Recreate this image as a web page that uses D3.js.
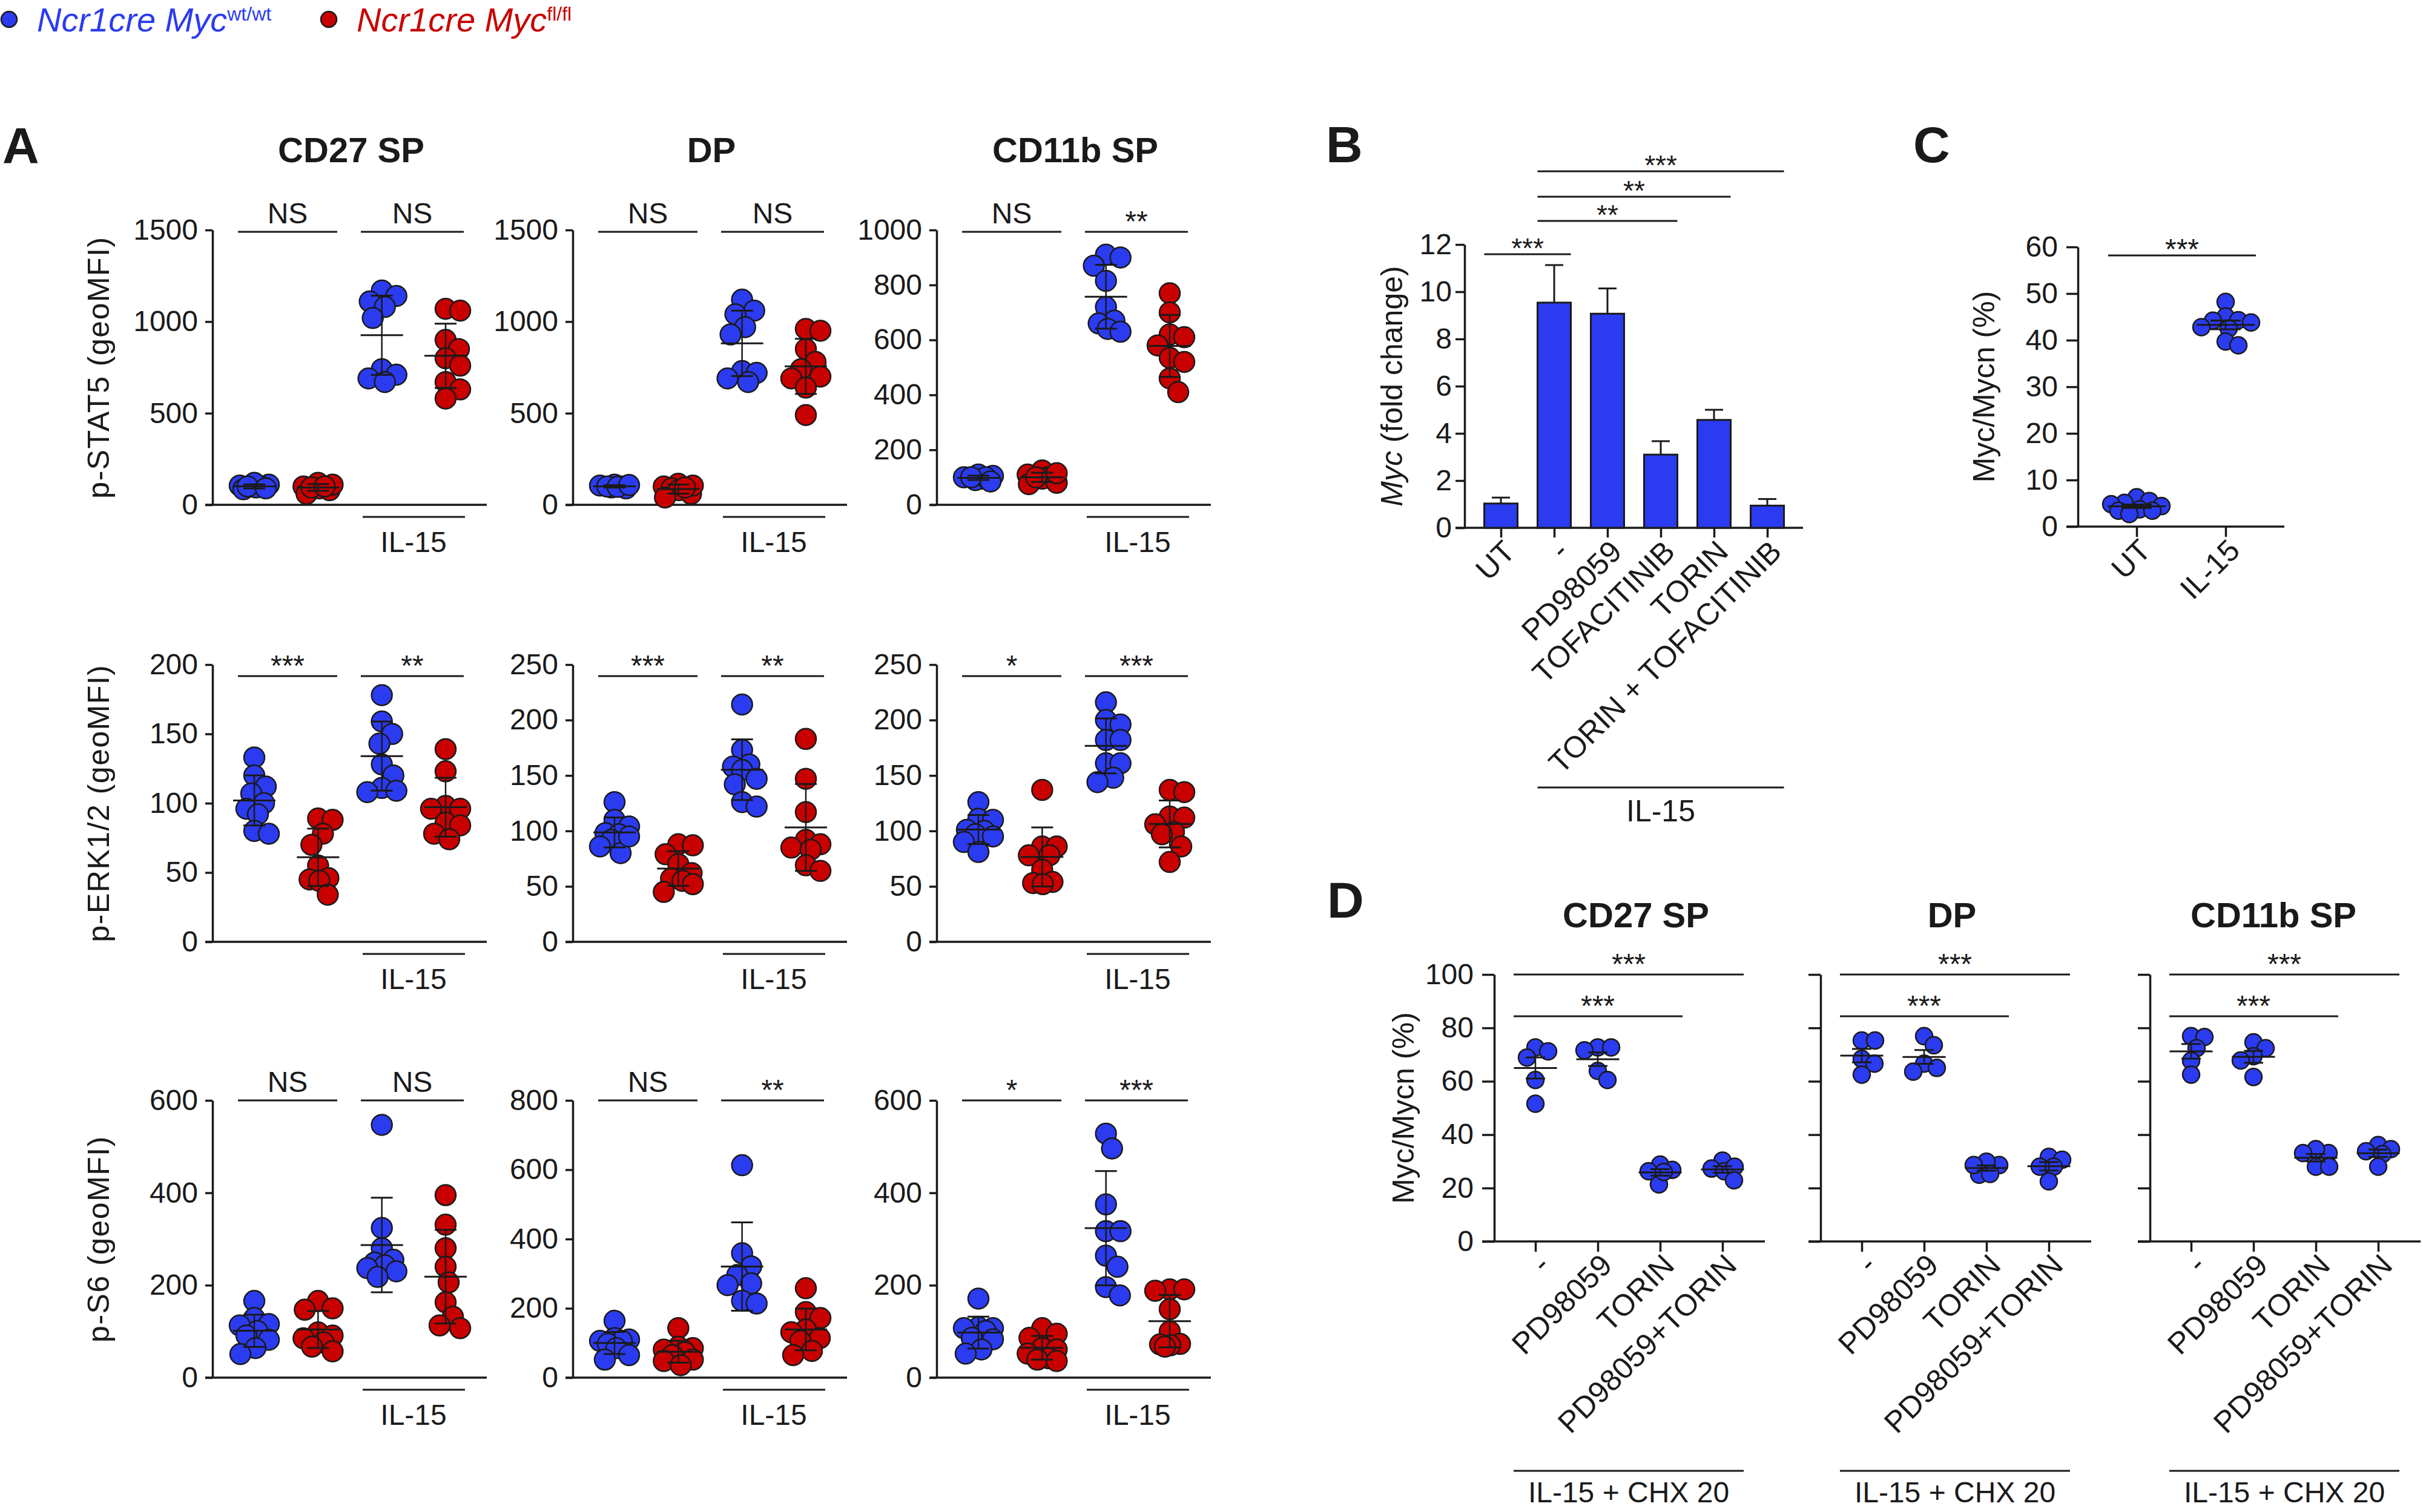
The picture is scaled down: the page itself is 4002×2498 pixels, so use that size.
<!DOCTYPE html>
<html>
<head>
<meta charset="utf-8">
<script src="https://cdn.jsdelivr.net/npm/d3@7"></script>
<style>
body { margin: 0; background: #fff; }
svg text { font-family: "Liberation Sans", Arial, sans-serif; fill: #1a1a1a; }
</style>
</head>
<body>
<div id="fig"></div>
<script>
const blue = "#2b3bf0", red = "#c80000", ink = "#1a1a1a";

// ---- legend
const legendLabels = ["Ncr1cre Myc", "Ncr1cre Myc"];
const legendSups = ["wt/wt", "fl/fl"];
const legendColors = [blue, red];

// ---- panel A: phospho-flow, 3 readouts x 3 subsets, 4 groups each
const groupsA = ["UT wt/wt", "UT fl/fl", "IL-15 wt/wt", "IL-15 fl/fl"];
const groupColorsA = [blue, red, blue, red];
const subsetsA = ["CD27 SP", "DP", "CD11b SP"];
const readoutsA = ["p-STAT5 (geoMFI)", "p-ERK1/2 (geoMFI)", "p-S6 (geoMFI)"];

const stat5CD27 = [
  [110, 100, 95, 120, 105, 85, 100, 90],
  [120, 100, 90, 80, 60, 110, 95, 100],
  [1170, 1140, 1110, 1080, 1020, 740, 710, 690, 670],
  [1070, 1060, 900, 850, 800, 760, 670, 630, 580]
];
const stat5DP = [
  [110, 100, 95, 105, 90, 100, 98, 108],
  [115, 100, 90, 80, 60, 40, 105, 95],
  [1120, 1060, 1040, 970, 930, 730, 720, 690, 670],
  [960, 950, 850, 780, 740, 700, 690, 640, 490]
];
const stat5CD11b = [
  [105, 100, 95, 90, 110, 100, 85, 100],
  [125, 110, 100, 95, 80, 75, 100, 115],
  [910, 900, 870, 815, 720, 670, 660, 640, 630],
  [770, 700, 620, 610, 580, 535, 520, 460, 410]
];
const erkCD27 = [
  [133, 120, 112, 107, 100, 96, 92, 80, 78],
  [89, 88, 78, 70, 55, 46, 45, 44, 34],
  [178, 159, 150, 143, 128, 120, 111, 109, 108],
  [139, 123, 98, 96, 96, 86, 84, 78, 74]
];
const erkDP = [
  [126, 110, 104, 98, 97, 92, 86, 80, 95],
  [88, 87, 79, 70, 62, 57, 55, 52, 45],
  [214, 173, 160, 158, 155, 147, 142, 126, 122],
  [183, 147, 117, 92, 88, 85, 83, 69, 64]
];
const erkCD11b = [
  [126, 111, 110, 101, 100, 97, 95, 90, 81],
  [137, 86, 86, 78, 78, 65, 54, 53, 52],
  [216, 200, 196, 182, 182, 161, 161, 148, 144],
  [137, 135, 113, 112, 106, 99, 97, 86, 72]
];
const s6CD27 = [
  [166, 129, 116, 113, 101, 91, 82, 64, 51],
  [166, 150, 147, 98, 91, 85, 76, 67, 57],
  [547, 324, 280, 255, 249, 243, 237, 230, 218],
  [395, 331, 280, 240, 206, 163, 132, 113, 107]
];
const s6DP = [
  [164, 114, 110, 106, 106, 98, 85, 65, 52],
  [143, 89, 85, 81, 73, 65, 52, 48, 36],
  [613, 359, 321, 296, 272, 267, 222, 214],
  [258, 189, 172, 139, 131, 114, 106, 77, 65]
];
const s6CD11b = [
  [171, 109, 107, 107, 101, 86, 83, 61, 52],
  [107, 95, 86, 64, 61, 52, 42, 39, 36],
  [528, 496, 375, 317, 317, 264, 240, 196, 178],
  [191, 191, 188, 148, 100, 73, 72, 70, 67]
];
const dataA = [
  [stat5CD27, stat5DP, stat5CD11b],
  [erkCD27, erkDP, erkCD11b],
  [s6CD27, s6DP, s6CD11b]
];
const ticksA = [
  [[0, 500, 1000, 1500], [0, 500, 1000, 1500], [0, 200, 400, 600, 800, 1000]],
  [[0, 50, 100, 150, 200], [0, 50, 100, 150, 200, 250], [0, 50, 100, 150, 200, 250]],
  [[0, 200, 400, 600], [0, 200, 400, 600, 800], [0, 200, 400, 600]]
];
const sigA = [
  [["NS", "NS"], ["NS", "NS"], ["NS", "**"]],
  [["***", "**"], ["***", "**"], ["*", "***"]],
  [["NS", "NS"], ["NS", "**"], ["*", "***"]]
];

// ---- panel B: Myc qPCR
const treatmentsB = ["UT", "-", "PD98059", "TOFACITINIB", "TORIN", "TORIN + TOFACITINIB"];
const mycFold = [1.03, 9.54, 9.07, 3.10, 4.57, 0.94];
const mycFoldErr = [0.25, 1.59, 1.07, 0.57, 0.43, 0.28];
const ticksB = [0, 2, 4, 6, 8, 10, 12];
const sigB = [["UT", "-", "***"], ["-", "TOFACITINIB", "**"], ["-", "TORIN", "**"], ["-", "TORIN + TOFACITINIB", "***"]];

// ---- panel C
const groupsC = ["UT", "IL-15"];
const mycMycnUT = [6.3, 5.5, 5.1, 4.8, 4.4, 3.7, 3.4, 3.4, 2.7];
const mycMycnIL15 = [48.2, 45.1, 44.3, 44.2, 43.8, 42.8, 42.5, 39.7, 38.9];
const ticksC = [0, 10, 20, 30, 40, 50, 60];

// ---- panel D
const treatmentsD = ["-", "PD98059", "TORIN", "PD98059+TORIN"];
const subsetsD = ["CD27 SP", "DP", "CD11b SP"];
const mycCD27 = [[72.7, 71.2, 68.9, 60.5, 51.6], [72.7, 71.6, 72.7, 63.9, 60.5], [28.8, 21.4, 26.8, 26.3, 26.0], [30.3, 27.3, 26.3, 28.0, 22.9]];
const mycDP = [[75.3, 75.3, 68.4, 66.6, 62.5], [76.9, 73.5, 66.6, 63.6, 65.0], [28.6, 25.0, 29.9, 28.6, 25.3], [31.7, 30.6, 28.0, 28.0, 22.5]];
const mycCD11b = [[76.9, 76.6, 72.4, 67.7, 62.5], [74.6, 72.4, 69.4, 67.8, 61.6], [33.1, 34.6, 33.1, 28.0, 28.0], [36.1, 34.6, 33.8, 32.7, 28.0]];
const dataD = [mycCD27, mycDP, mycCD11b];
const ticksD = [0, 20, 40, 60, 80, 100];

// ------------------------------------------------------------
const svg = d3.select("#fig").append("svg")
  .attr("width", 4002).attr("height", 2498);

const sem = v => d3.deviation(v) / Math.sqrt(v.length);
const fmt = d3.format("d");

// simple beeswarm: x offsets so dots do not pile up too much
function swarm(vals, y, minD, maxOff) {
  const order = d3.range(vals.length).sort((a, b) => vals[b] - vals[a]);
  const placed = [], out = [];
  order.forEach(i => {
    const yy = y(vals[i]);
    let best = 0, bestScore = Infinity;
    for (let k = 0; k <= 2 * maxOff; k++) {
      const off = (k % 2 ? 1 : -1) * Math.ceil(k / 2);
      let worst = 0;
      placed.forEach(p => { worst = Math.max(worst, minD - Math.hypot(p[0] - off, p[1] - yy)); });
      if (worst <= 0) { best = off; bestScore = 0; break; }
      if (worst < bestScore) { bestScore = worst; best = off; }
    }
    placed.push([best, yy]);
    out[i] = best;
  });
  return out;
}

function styleAxis(g, fs) {
  g.attr("font-family", null).attr("font-size", null);
  g.select(".domain").attr("stroke", ink).attr("stroke-width", 3.5);
  g.selectAll(".tick line").attr("stroke", ink).attr("stroke-width", 3.5);
  g.selectAll(".tick text").attr("font-size", fs).attr("fill", ink);
}

function hline(g, x1, x2, y, w) {
  g.append("line").attr("x1", x1).attr("x2", x2).attr("y1", y).attr("y2", y)
    .attr("stroke", ink).attr("stroke-width", w || 3);
}

function sigText(g, x, barY, label, fs, starDy) {
  g.append("text").attr("x", x).attr("y", label === "NS" ? barY - 14 : barY + starDy)
    .attr("text-anchor", "middle").attr("font-size", fs).text(label);
}

// dots + mean + error bar for one group
function dotGroup(g, vals, cx, y, color, r, maxOff, err, meanW, capW) {
  const offs = swarm(vals, y, r * 1.55, maxOff);
  g.selectAll(null).data(vals).enter().append("circle")
    .attr("cx", (d, i) => cx + offs[i]).attr("cy", d => y(d)).attr("r", r)
    .attr("fill", color).attr("stroke", ink).attr("stroke-width", 2.5);
  const m = d3.mean(vals), e = err(vals);
  hline(g, cx - meanW / 2, cx + meanW / 2, y(m), 3);
  hline(g, cx - capW / 2, cx + capW / 2, y(m + e), 3);
  hline(g, cx - capW / 2, cx + capW / 2, y(m - e), 3);
  g.append("line").attr("x1", cx).attr("x2", cx).attr("y1", y(m + e)).attr("y2", y(m - e))
    .attr("stroke", ink).attr("stroke-width", 2.5);
}

// ---- legend
legendLabels.forEach((lab, i) => {
  const x0 = [15, 543][i];
  svg.append("circle").attr("cx", x0).attr("cy", 32).attr("r", 13)
    .attr("fill", legendColors[i]).attr("stroke", ink).attr("stroke-width", 2.5);
  const t = svg.append("text").attr("x", x0 + 46).attr("y", 52).attr("font-size", 56)
    .attr("font-style", "italic").style("fill", legendColors[i]).text(lab);
  t.append("tspan").attr("font-size", 32).attr("font-style", "normal").attr("dy", -18)
    .style("fill", legendColors[i]).text(legendSups[i]);
});

// panel letters
[["A", 4, 270], ["B", 2190, 268], ["C", 3160, 268], ["D", 2192, 1516]].forEach(([l, x, y]) => {
  svg.append("text").attr("x", x).attr("y", y).attr("font-size", 84).attr("font-weight", "bold").text(l);
});

// ---- panel A
const axA = [351, 946, 1547], topA = [380, 1098, 1818], botA = [834, 1556, 2276];
const sigYA = [383, 1117, 1818];

dataA.forEach((row, r) => row.forEach((groups, c) => {
  const x0 = axA[c];
  const ticks = ticksA[r][c];
  const g = svg.append("g");
  const y = d3.scaleLinear().domain([0, d3.max(ticks)]).range([botA[r], topA[r]]);
  const x = d3.scalePoint().domain(groupsA).range([x0 + 69, x0 + 385]);

  g.append("g").attr("transform", `translate(${x0},0)`)
    .call(d3.axisLeft(y).tickValues(ticks).tickFormat(fmt).tickSize(12).tickSizeOuter(0).tickPadding(12))
    .call(a => styleAxis(a, 48));
  hline(g, x0 - 12, x0 + 453, y(0), 3.5);

  groups.forEach((vals, k) => {
    dotGroup(g, vals, x(groupsA[k]), y, groupColorsA[k], 17, 24, d3.deviation, 70, 36);
  });

  // significance
  [[42, 206], [245, 415]].forEach(([a, b], k) => {
    hline(g, x0 + a, x0 + b, sigYA[r], 3);
    sigText(g, x0 + (a + b) / 2, sigYA[r], sigA[r][c][k], 48, -1);
  });

  // IL-15 group bar
  hline(g, x0 + 248, x0 + 417, botA[r] + 20, 3);
  g.append("text").attr("x", x0 + 332).attr("y", botA[r] + 78).attr("text-anchor", "middle")
    .attr("font-size", 48).text("IL-15");

  if (r === 0) {
    g.append("text").attr("x", x0 + 229).attr("y", 268).attr("text-anchor", "middle")
      .attr("font-size", 58).attr("font-weight", "bold").text(subsetsA[c]);
  }
  if (c === 0) {
    g.append("text").attr("transform", `translate(180,${(topA[r] + botA[r]) / 2}) rotate(-90)`)
      .attr("text-anchor", "middle").attr("font-size", 50).attr("letter-spacing", 1.5)
      .text(readoutsA[r]);
  }
}));

// rotated category labels for B, C, D
function rotLabels(g, x, cats, baseY, fs) {
  g.selectAll(null).data(cats).enter().append("text")
    .attr("transform", d => `translate(${x(d) + 14},${baseY + 30}) rotate(-45)`)
    .attr("text-anchor", "end").attr("dy", "0.35em").attr("font-size", fs).text(d => d);
}

// ---- panel B
{
  const ax = 2419, top = 404, bot = 872;
  const g = svg.append("g");
  const y = d3.scaleLinear().domain([0, 12]).range([bot, top]);
  const x = d3.scalePoint().domain(treatmentsB).range([ax + 60, ax + 500]);
  const bw = 55;

  g.append("g").attr("transform", `translate(${ax},0)`)
    .call(d3.axisLeft(y).tickValues(ticksB).tickFormat(fmt).tickSize(15).tickSizeOuter(0).tickPadding(6))
    .call(a => styleAxis(a, 48));
  g.append("g").attr("transform", `translate(0,${bot})`)
    .call(d3.axisBottom(x).tickSize(16).tickSizeOuter(0).tickFormat(""))
    .call(a => { styleAxis(a, 48); a.select(".domain").remove(); });
  hline(g, ax - 15, ax + 559, bot, 3.5);

  g.selectAll(null).data(treatmentsB).enter().append("rect")
    .attr("x", d => x(d) - bw / 2).attr("width", bw)
    .attr("y", (d, i) => y(mycFold[i])).attr("height", (d, i) => bot - y(mycFold[i]))
    .attr("fill", blue).attr("stroke", ink).attr("stroke-width", 3);
  treatmentsB.forEach((t, i) => {
    const cx = x(t), top1 = y(mycFold[i] + mycFoldErr[i]);
    g.append("line").attr("x1", cx).attr("x2", cx).attr("y1", y(mycFold[i])).attr("y2", top1)
      .attr("stroke", ink).attr("stroke-width", 3);
    hline(g, cx - 15, cx + 15, top1, 3);
  });

  rotLabels(g, x, treatmentsB, bot, 50);

  const levels = [420, 365, 325, 283];
  sigB.forEach(([a, b, lab], k) => {
    const x1 = x(a) - bw / 2, x2 = x(b) + bw / 2;
    hline(g, x1, x2, levels[k], 3);
    sigText(g, (x1 + x2) / 2, levels[k], lab, 46, 6);
  });

  hline(g, x("-") - bw / 2, x(treatmentsB[5]) + bw / 2, 1301, 3);
  g.append("text").attr("x", (x("-") + x(treatmentsB[5])) / 2).attr("y", 1357)
    .attr("text-anchor", "middle").attr("font-size", 50).text("IL-15");

  const lab = g.append("text").attr("transform", `translate(2316,${(top + bot) / 2}) rotate(-90)`)
    .attr("text-anchor", "middle").attr("font-size", 50);
  lab.append("tspan").attr("font-style", "italic").text("Myc");
  lab.append("tspan").text(" (fold change)");
}

// ---- panel C
{
  const ax = 3432, top = 408, bot = 870;
  const g = svg.append("g");
  const y = d3.scaleLinear().domain([0, 60]).range([bot, top]);
  const x = d3.scalePoint().domain(groupsC).range([ax + 97, ax + 244]);

  g.append("g").attr("transform", `translate(${ax},0)`)
    .call(d3.axisLeft(y).tickValues(ticksC).tickFormat(fmt).tickSize(19).tickSizeOuter(0).tickPadding(14))
    .call(a => styleAxis(a, 48));
  g.append("g").attr("transform", `translate(0,${bot})`)
    .call(d3.axisBottom(x).tickSize(17).tickSizeOuter(0).tickFormat(""))
    .call(a => { styleAxis(a, 48); a.select(".domain").remove(); });
  hline(g, ax - 19, ax + 341, bot, 3.5);

  [mycMycnUT, mycMycnIL15].forEach((vals, k) => {
    dotGroup(g, vals, x(groupsC[k]), y, blue, 14, 42, sem, 96, 50);
  });
  rotLabels(g, x, groupsC, bot, 50);

  hline(g, ax + 50, ax + 294, 422, 3);
  sigText(g, ax + 172, 422, "***", 48, 6);

  g.append("text").attr("transform", `translate(3294,${(top + bot) / 2}) rotate(-90)`)
    .attr("text-anchor", "middle").attr("font-size", 50).text("Myc/Mycn (%)");
}

// ---- panel D
{
  const axD = [2468, 3007, 3551], top = 1610, bot = 2051;
  const titleDx = [234, 217, 204];
  dataD.forEach((groups, p) => {
    const ax = axD[p];
    const g = svg.append("g");
    const y = d3.scaleLinear().domain([0, 100]).range([bot, top]);
    const x = d3.scalePoint().domain(treatmentsD).range([ax + 68, ax + 377]);

    g.append("g").attr("transform", `translate(${ax},0)`)
      .call(d3.axisLeft(y).tickValues(ticksD).tickSize(20).tickSizeOuter(0).tickPadding(14)
        .tickFormat(p === 0 ? fmt : ""))
      .call(a => styleAxis(a, 48));
    g.append("g").attr("transform", `translate(0,${bot})`)
      .call(d3.axisBottom(x).tickSize(17).tickSizeOuter(0).tickFormat(""))
      .call(a => { styleAxis(a, 48); a.select(".domain").remove(); });
    hline(g, ax - 20, ax + 447, bot, 3.5);

    groups.forEach((vals, k) => {
      dotGroup(g, vals, x(treatmentsD[k]), y, blue, 14, 28, sem, 71, 32);
    });
    rotLabels(g, x, treatmentsD, bot, 50);

    hline(g, ax + 32, ax + 412, 1610, 3);
    sigText(g, ax + 222, 1610, "***", 48, -1);
    hline(g, ax + 32, ax + 311, 1679, 3);
    sigText(g, ax + 171, 1679, "***", 48, -1);

    hline(g, ax + 32, ax + 412, 2430, 3);
    g.append("text").attr("x", ax + 222).attr("y", 2482).attr("text-anchor", "middle")
      .attr("font-size", 48).text("IL-15 + CHX 20");

    g.append("text").attr("x", ax + titleDx[p]).attr("y", 1532).attr("text-anchor", "middle")
      .attr("font-size", 58).attr("font-weight", "bold").text(subsetsD[p]);

    if (p === 0) {
      g.append("text").attr("transform", `translate(2335,${(top + bot) / 2}) rotate(-90)`)
        .attr("text-anchor", "middle").attr("font-size", 50).text("Myc/Mycn (%)");
    }
  });
}
</script>
</body>
</html>
